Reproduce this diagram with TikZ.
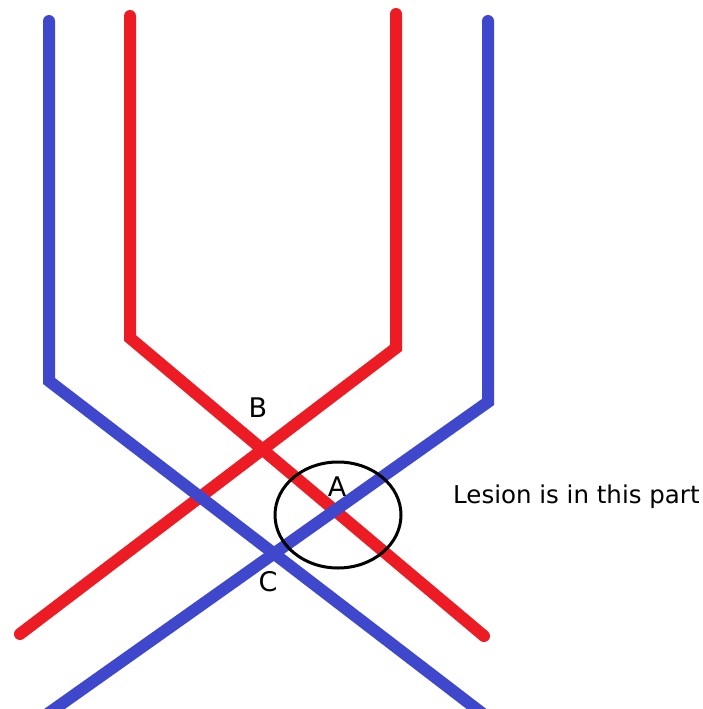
\documentclass[tikz,border=0pt]{standalone}
\usepackage{fontspec}
\setmainfont{DejaVu Sans}
\usetikzlibrary{positioning}
\definecolor{tractblue}{HTML}{3F48CC}
\definecolor{tractred}{HTML}{ED1C24}
\tikzset{
  tract/.style={line width=12pt, line cap=round, line join=miter},
  crosslbl/.style={font=\fontsize{27}{32}\selectfont, inner sep=0pt},
  notelbl/.style={font=\fontsize{24.5}{29}\selectfont, inner sep=0pt, anchor=west}
}

\begin{document}
\begin{tikzpicture}[x=1pt, y=-1pt]
\clip (0,0) rectangle (703,709);
% corner points of the four tracts
\coordinate (redL top) at (130,16);
\coordinate (redL bend) at (130,338);
\coordinate (redL end) at (484,636);
\coordinate (redR top) at (396,14);
\coordinate (redR bend) at (396,348);
\coordinate (redR end) at (20,634);
\coordinate (blueL top) at (49,21);
\coordinate (blueL bend) at (49,381);
\coordinate (blueL end) at (487,717);
\coordinate (blueR top) at (488,21);
\coordinate (blueR bend) at (488,402);
\coordinate (blueR end) at (46,715);
% red tracts
\draw[tract, tractred] (redL top) -- (redL bend) -- (redL end);
\draw[tract, tractred] (redR top) -- (redR bend) -- (redR end);
% blue tracts
\draw[tract, tractblue] (blueL top) -- (blueL bend) -- (blueL end);
\draw[tract, tractblue] (blueR top) -- (blueR bend) -- (blueR end);
% lesion marker
\draw[line width=3pt] (338,515) ellipse [x radius=63, y radius=53];
\node[crosslbl] (B) at (258,408) {B};
\node[crosslbl] (A) at (337,487) {A};
\node[crosslbl] (C) at (268,582) {C};
\node[notelbl] (lesion) at (453,497) {Lesion is in this part};
\end{tikzpicture}
\end{document}
